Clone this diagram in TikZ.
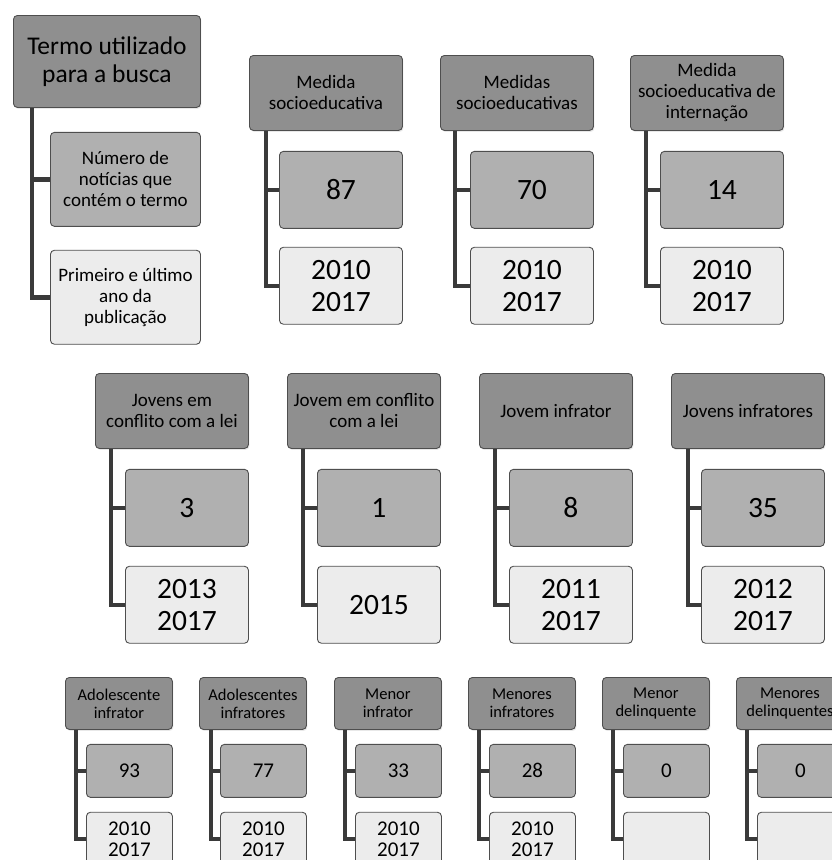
\documentclass[tikz,border=0pt]{standalone}
\usepackage{fontspec}
\setmainfont{Carlito}
\usetikzlibrary{positioning, shadows}
\definecolor{hdrgray}{RGB}{143,143,143}
\definecolor{numgray}{RGB}{176,176,176}
\definecolor{yeargray}{RGB}{236,236,236}
\definecolor{edgegray}{RGB}{78,78,78}
\definecolor{stemgray}{RGB}{58,58,58}

\begin{document}
\begin{tikzpicture}[x=1pt, y=-1pt,
    box/.style={rectangle, rounded corners=4pt, draw=edgegray, line width=0.9pt,
                align=center, inner sep=1pt},
    hdrbox/.style={box, fill=hdrgray,
                drop shadow={opacity=0.18, shadow xshift=1pt, shadow yshift=-1.5pt}},
    numbox/.style={box, fill=numgray},
    yearbox/.style={box, fill=yeargray},
    bighdr/.style={anchor=north west, minimum width=153pt, minimum height=75pt,
                font=\fontsize{19}{21}\selectfont},
    bigsub/.style={minimum width=123pt, minimum height=77pt,
                font=\fontsize{29.5}{32}\selectfont},
    smallhdr/.style={anchor=north west, minimum width=107pt, minimum height=52pt,
                font=\fontsize{16.5}{18}\selectfont},
    smallsub/.style={minimum width=86pt, minimum height=53pt,
                font=\fontsize{21}{21}\selectfont},
    stem/.style={draw=stemgray, line width=4.5pt},
    thinstem/.style={draw=stemgray, line width=3.8pt}
]
\useasboundingbox (0,0) rectangle (832,860);
\clip (0,0) rectangle (832,860);

% legenda
\node[hdrbox, anchor=north west, minimum width=187pt, minimum height=92pt,
      font=\fontsize{25.5}{28}\selectfont] (termo) at (13,15) {Termo utilizado\\para a busca};
\node[numbox, minimum width=150pt, minimum height=94pt, font=\fontsize{19}{21}\selectfont,
      below=24pt of termo.south east, anchor=north east] (termo-n) {Número de\\notícias que\\contém o termo};
\node[yearbox, minimum width=150pt, minimum height=94pt, font=\fontsize{19}{21}\selectfont,
      below=23pt of termo-n.south east, anchor=north east] (termo-a) {Primeiro e último\\ano da\\publicação};

% linha 1
\node[hdrbox, bighdr] (ms) at (249,55) {Medida\\socioeducativa};
\node[numbox, bigsub, below=20pt of ms.south east, anchor=north east] (ms-n) {87};
\node[yearbox, bigsub, below=18pt of ms-n.south east, anchor=north east] (ms-a) {2010\\2017};
\node[hdrbox, bighdr] (mss) at (440,55) {Medidas\\socioeducativas};
\node[numbox, bigsub, below=20pt of mss.south east, anchor=north east] (mss-n) {70};
\node[yearbox, bigsub, below=18pt of mss-n.south east, anchor=north east] (mss-a) {2010\\2017};
\node[hdrbox, bighdr] (msi) at (630,55) {Medida\\socioeducativa de\\internação};
\node[numbox, bigsub, below=20pt of msi.south east, anchor=north east] (msi-n) {14};
\node[yearbox, bigsub, below=18pt of msi-n.south east, anchor=north east] (msi-a) {2010\\2017};

% linha 2
\node[hdrbox, bighdr] (jcl) at (95,373) {Jovens em\\conflito com a lei};
\node[numbox, bigsub, below=20pt of jcl.south east, anchor=north east] (jcl-n) {3};
\node[yearbox, bigsub, below=19pt of jcl-n.south east, anchor=north east] (jcl-a) {2013\\2017};
\node[hdrbox, bighdr] (jc) at (287,373) {Jovem em conflito\\com a lei};
\node[numbox, bigsub, below=20pt of jc.south east, anchor=north east] (jc-n) {1};
\node[yearbox, bigsub, below=19pt of jc-n.south east, anchor=north east] (jc-a) {2015};
\node[hdrbox, bighdr] (ji) at (479,373) {Jovem infrator};
\node[numbox, bigsub, below=20pt of ji.south east, anchor=north east] (ji-n) {8};
\node[yearbox, bigsub, below=19pt of ji-n.south east, anchor=north east] (ji-a) {2011\\2017};
\node[hdrbox, bighdr] (jis) at (671,373) {Jovens infratores};
\node[numbox, bigsub, below=20pt of jis.south east, anchor=north east] (jis-n) {35};
\node[yearbox, bigsub, below=19pt of jis-n.south east, anchor=north east] (jis-a) {2012\\2017};

% linha 3
\node[hdrbox, smallhdr] (ai) at (65,677) {Adolescente\\infrator};
\node[numbox, smallsub, below=14pt of ai.south east, anchor=north east] (ai-n) {93};
\node[yearbox, smallsub, below=14pt of ai-n.south east, anchor=north east] (ai-a) {2010\\2017};
\node[hdrbox, smallhdr] (ais) at (199,677) {Adolescentes\\infratores};
\node[numbox, smallsub, below=14pt of ais.south east, anchor=north east] (ais-n) {77};
\node[yearbox, smallsub, below=14pt of ais-n.south east, anchor=north east] (ais-a) {2010\\2017};
\node[hdrbox, smallhdr] (mi) at (334,677) {Menor\\infrator};
\node[numbox, smallsub, below=14pt of mi.south east, anchor=north east] (mi-n) {33};
\node[yearbox, smallsub, below=14pt of mi-n.south east, anchor=north east] (mi-a) {2010\\2017};
\node[hdrbox, smallhdr] (mis) at (468,677) {Menores\\infratores};
\node[numbox, smallsub, below=14pt of mis.south east, anchor=north east] (mis-n) {28};
\node[yearbox, smallsub, below=14pt of mis-n.south east, anchor=north east] (mis-a) {2010\\2017};
\node[hdrbox, smallhdr] (md) at (602,677) {Menor\\delinquente};
\node[numbox, smallsub, below=14pt of md.south east, anchor=north east] (md-n) {0};
\node[yearbox, smallsub, below=14pt of md-n.south east, anchor=north east] (md-a) {};
\node[hdrbox, smallhdr] (mds) at (736,677) {Menores\\delinquentes};
\node[numbox, smallsub, below=14pt of mds.south east, anchor=north east] (mds-n) {0};
\node[yearbox, smallsub, below=14pt of mds-n.south east, anchor=north east] (mds-a) {};

% hastes
\draw[stem] ([xshift=19pt]termo.south west) |- (termo-n.west)
            ([xshift=19pt]termo.south west) |- (termo-a.west);
\draw[stem] ([xshift=17pt]ms.south west) |- (ms-n.west) ([xshift=17pt]ms.south west) |- (ms-a.west);
\draw[stem] ([xshift=15pt]mss.south west) |- (mss-n.west) ([xshift=15pt]mss.south west) |- (mss-a.west);
\draw[stem] ([xshift=16pt]msi.south west) |- (msi-n.west) ([xshift=16pt]msi.south west) |- (msi-a.west);
\draw[stem] ([xshift=16pt]jcl.south west) |- (jcl-n.west) ([xshift=16pt]jcl.south west) |- (jcl-a.west);
\draw[stem] ([xshift=16pt]jc.south west) |- (jc-n.west) ([xshift=16pt]jc.south west) |- (jc-a.west);
\draw[stem] ([xshift=16pt]ji.south west) |- (ji-n.west) ([xshift=16pt]ji.south west) |- (ji-a.west);
\draw[stem] ([xshift=17pt]jis.south west) |- (jis-n.west) ([xshift=17pt]jis.south west) |- (jis-a.west);
\draw[thinstem] ([xshift=11pt]ai.south west) |- (ai-n.west) ([xshift=11pt]ai.south west) |- (ai-a.west);
\draw[thinstem] ([xshift=12pt]ais.south west) |- (ais-n.west) ([xshift=12pt]ais.south west) |- (ais-a.west);
\draw[thinstem] ([xshift=11pt]mi.south west) |- (mi-n.west) ([xshift=11pt]mi.south west) |- (mi-a.west);
\draw[thinstem] ([xshift=11pt]mis.south west) |- (mis-n.west) ([xshift=11pt]mis.south west) |- (mis-a.west);
\draw[thinstem] ([xshift=11pt]md.south west) |- (md-n.west) ([xshift=11pt]md.south west) |- (md-a.west);
\draw[thinstem] ([xshift=11pt]mds.south west) |- (mds-n.west) ([xshift=11pt]mds.south west) |- (mds-a.west);
\end{tikzpicture}
\end{document}
